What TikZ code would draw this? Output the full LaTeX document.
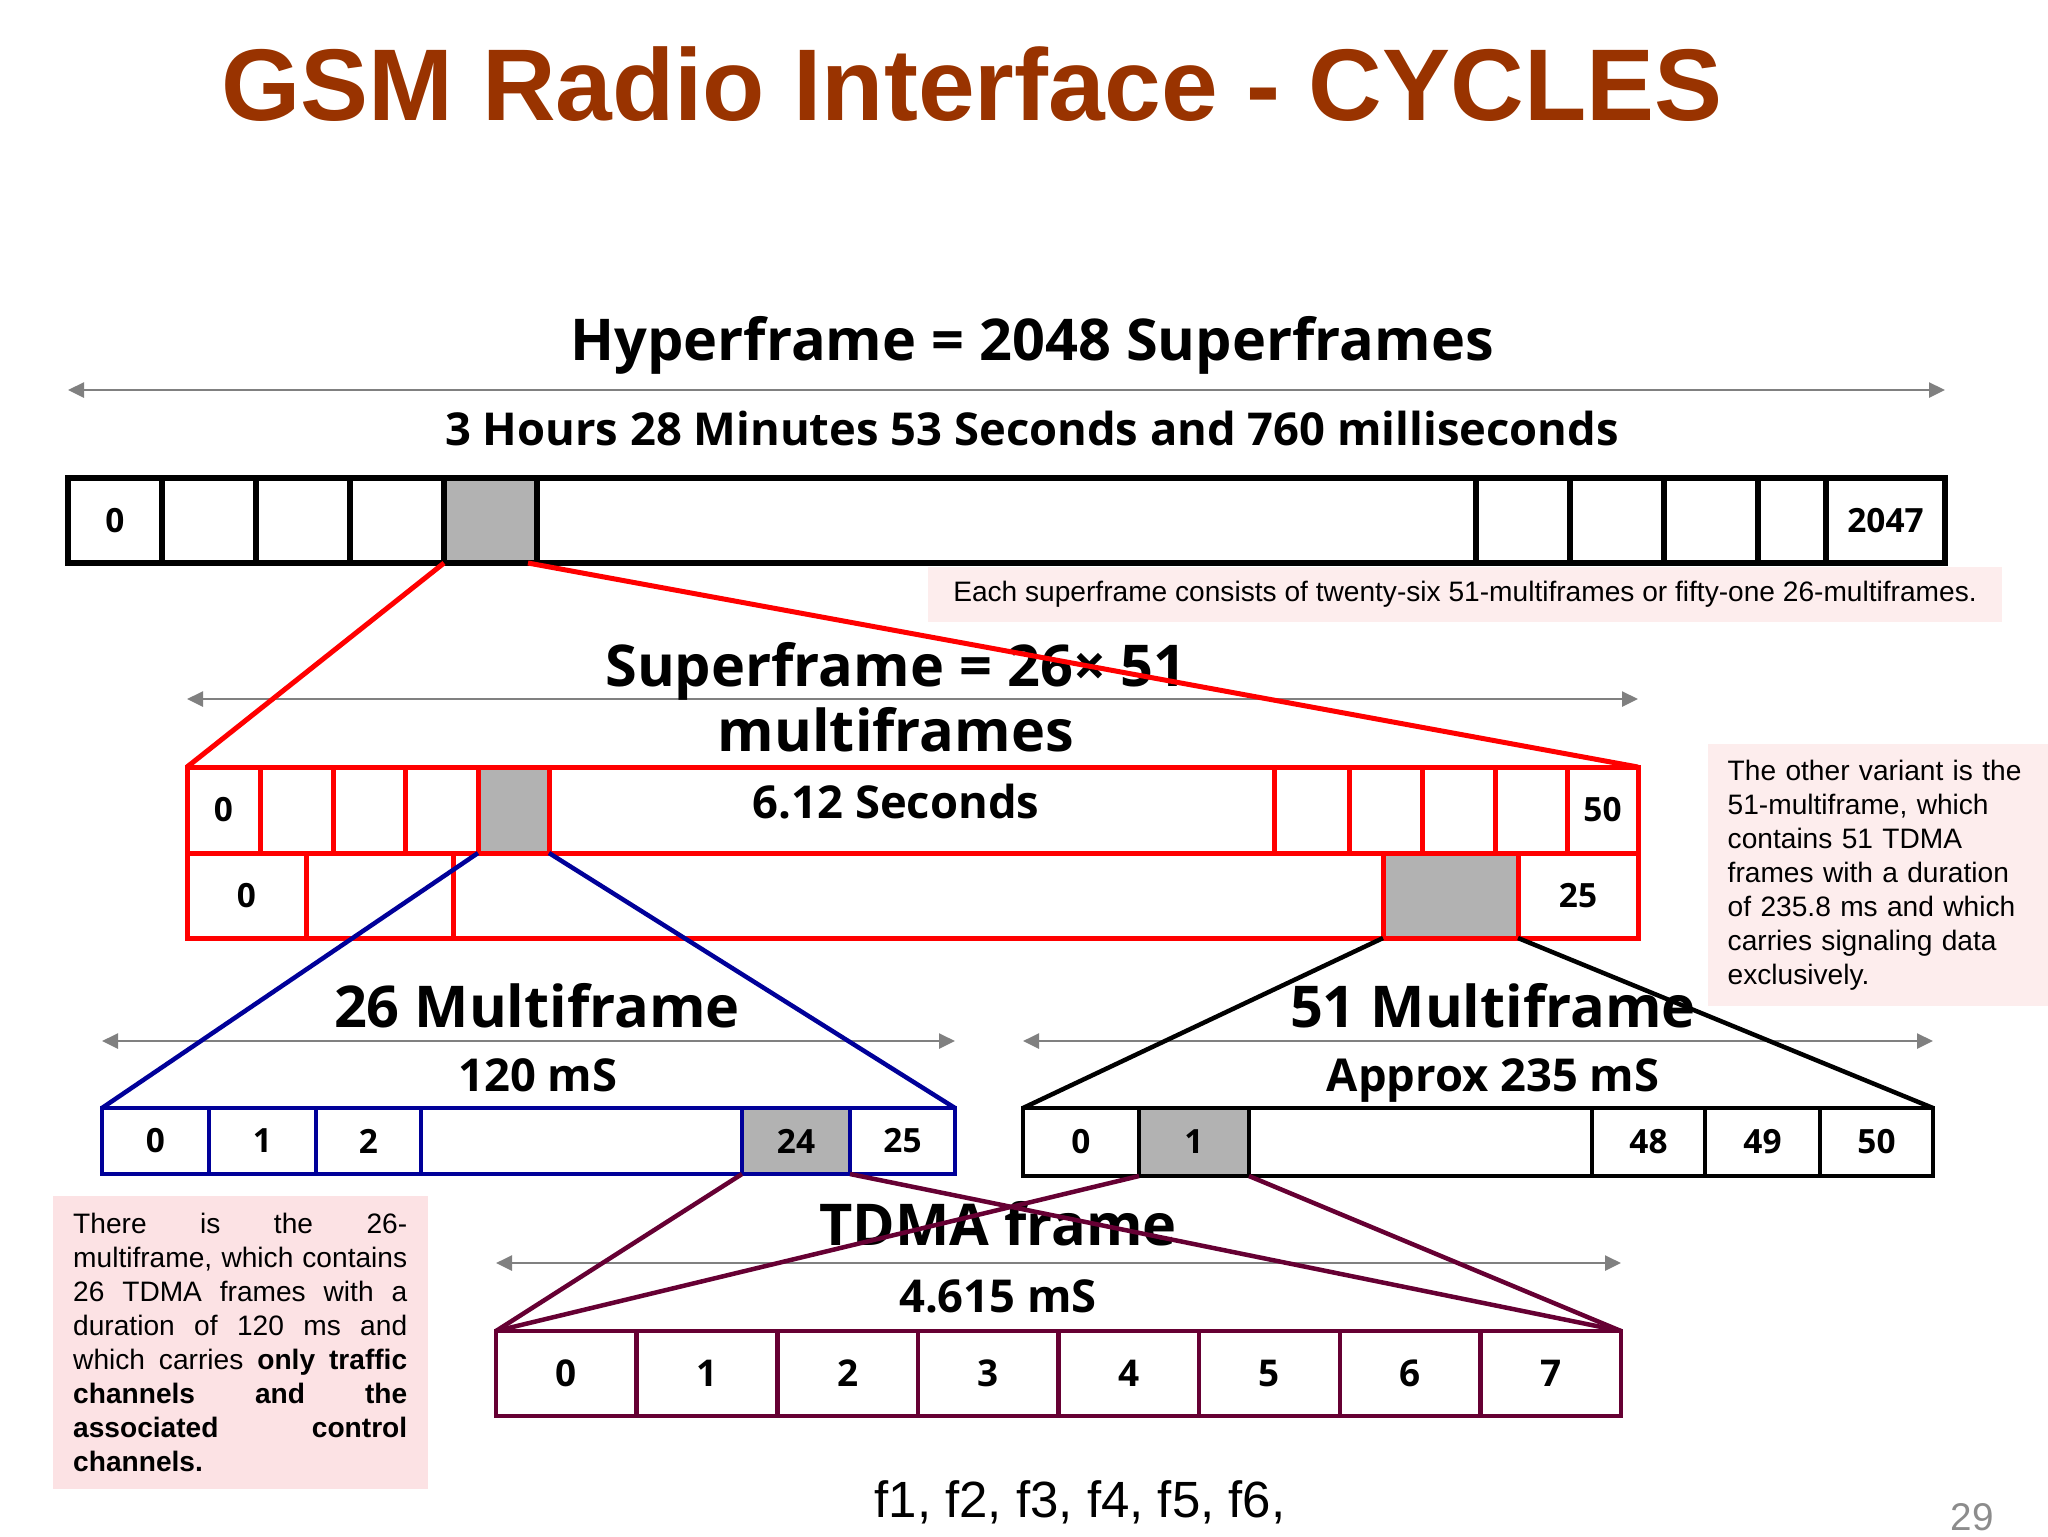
\documentclass[tikz,border=0pt]{standalone}
\usepackage{fontspec}
\setmainfont{Liberation Sans}
\newfontfamily\opensans{Open Sans}
\usepackage{tikz}
\usetikzlibrary{arrows.meta}

\definecolor{titlebrown}{RGB}{153,51,0}
\definecolor{navyline}{RGB}{0,0,153}
\definecolor{maroonline}{RGB}{102,0,51}
\definecolor{cellgray}{RGB}{178,178,178}
\definecolor{dimgray}{RGB}{128,128,128}
\definecolor{pagegray}{RGB}{140,140,140}
\definecolor{notepink}{RGB}{252,226,228}
\definecolor{notepinklight}{RGB}{253,237,237}

\begin{document}
\begin{tikzpicture}[
  x=0.1mm, y=-0.1mm,
  >={Triangle[length=1.6mm,width=1.5mm]},
  heading/.style={font=\fontsize{29}{35}\selectfont\bfseries, text=titlebrown, anchor=base, inner sep=0pt},
  framehead/.style={font=\opensans\bfseries\fontsize{16.4}{18.5}\selectfont, anchor=base, align=center, inner sep=0pt},
  framedur/.style={font=\opensans\bfseries\fontsize{12.9}{15}\selectfont, anchor=base, inner sep=0pt},
  barcell/.style={draw, inner sep=0pt, outer sep=0pt, font=\opensans\bfseries\fontsize{9.5}{11}\selectfont},
  hcell/.style={barcell, line width=0.6mm, minimum height=8.5mm},
  scell/.style={barcell, draw=red, line width=0.5mm, minimum height=8.5mm},
  mcell/.style={barcell, draw=navyline, line width=0.45mm, minimum height=6.6mm},
  bcell/.style={barcell, line width=0.45mm, minimum height=6.8mm},
  tcell/.style={barcell, draw=maroonline, line width=0.45mm, minimum height=8.5mm,
                font=\opensans\bfseries\fontsize{10.5}{12}\selectfont},
  sel/.style={fill=cellgray},
  dimline/.style={<->, draw=dimgray, line width=0.25mm},
  zoomline/.style={line width=0.45mm},
  notebox/.style={fill=notepinklight, font=\fontsize{8}{9.67}\selectfont, inner sep=0pt},
]
\useasboundingbox (0,0) rectangle (2048,1536);

% Title
\node[heading] (ttl) at (972,120) {GSM Radio Interface - CYCLES};

% Hyperframe
\node[hcell, anchor=north west, minimum width=187.7mm] (hyper) at (68,478) {};
\foreach \xl/\xr/\txt in {68/162/0, 162/256/{}, 256/350/{}, 350/444/{}, 537/1476/{},
    1476/1570/{}, 1570/1664/{}, 1664/1758/{}, 1758/1826/{}, 1826/1945/2047}
  \node[hcell, minimum width={(\xr-\xl)*0.1mm}] (h\xl) at ({(\xl+\xr)/2},520.5) {\txt};
\node[hcell, sel, minimum width=9.3mm] (hsel) at (490.5,520.5) {};
\draw[dimline] ([yshift=8.8mm]hyper.north west) -- ([yshift=8.8mm]hyper.north east);
\node[framehead] (hyperlbl) at (1032,360) {Hyperframe = 2048 Superframes};
\node[framedur] (hyperdur) at (1032,445) {3 Hours 28 Minutes 53 Seconds and 760 milliseconds};
\node[notebox, minimum width=107.4mm, minimum height=5.5mm] (sfnote) at (1465,594.5)
  {Each superframe consists of twenty-six 51-multiframes or fifty-one 26-multiframes.};

% Superframe
\node[scell, anchor=north west, minimum width=145.1mm, minimum height=17.1mm] (super) at (187,767) {};
\foreach \xl/\xr/\txt in {187/260/0, 260/333/{}, 333/405/{}, 405/478/{}, 549/1274/{},
    1274/1349/{}, 1349/1422/{}, 1422/1495/{}, 1495/1567/{}, 1567/1638/50}
  \node[scell, minimum height=8.6mm, minimum width={(\xr-\xl)*0.1mm}] (st\xl) at ({(\xl+\xr)/2},810) {\txt};
\node[scell, sel, minimum height=8.6mm, minimum width=7.1mm] (ssel) at (513.5,810) {};
\foreach \xl/\xr/\txt in {187/306/0, 306/453/{}, 453/1383/{}, 1518/1638/25}
  \node[scell, minimum width={(\xr-\xl)*0.1mm}] (sb\xl) at ({(\xl+\xr)/2},895.5) {\txt};
\node[scell, sel, minimum width=13.5mm] (ssel2) at (1450.5,895.5) {};
\draw[dimline] ([yshift=6.8mm]super.north west) -- ([yshift=6.8mm]super.north east);
\node[framehead, anchor=center] (superlbl) at (896,697) {Superframe = 26× 51\\multiframes};
\node[framedur] (superdur) at (896,818) {6.12 Seconds};

% 26 multiframe
\node[mcell, anchor=north west, minimum width=85.3mm] (mf26) at (102,1108) {};
\foreach \xl/\xr/\txt in {102/209/0, 209/316/1, 316/421/2, 421/742/{}, 850/955/25}
  \node[mcell, minimum width={(\xr-\xl)*0.1mm}] (m\xl) at ({(\xl+\xr)/2},1141) {\txt};
\node[mcell, sel, minimum width=10.8mm] (msel26) at (796,1141) {24};
\draw[dimline] ([yshift=6.7mm]mf26.north west) -- ([yshift=6.7mm]mf26.north east);
\node[framehead] (mf26lbl) at (537,1027) {26 Multiframe};
\node[framedur] (mf26dur) at (538,1091) {120 mS};

% 51 multiframe
\node[bcell, anchor=north west, minimum width=91mm] (mf51) at (1023,1108) {};
\foreach \xl/\xr/\txt in {1023/1139/0, 1249/1592/{}, 1592/1705/48, 1705/1820/49, 1820/1933/50}
  \node[bcell, minimum width={(\xr-\xl)*0.1mm}] (b\xl) at ({(\xl+\xr)/2},1142) {\txt};
\node[bcell, sel, minimum width=11mm] (msel51) at (1194,1142) {1};
\draw[dimline] ([yshift=6.7mm]mf51.north west) -- ([yshift=6.7mm]mf51.north east);
\node[framehead] (mf51lbl) at (1493,1027) {51 Multiframe};
\node[framedur] (mf51dur) at (1493,1091) {Approx 235 mS};

% TDMA frame
\node[tcell, anchor=north west, minimum width=112.5mm] (tdma) at (496,1331) {};
\foreach \n in {0,...,7}
  \node[tcell, minimum width=14.0625mm] (t\n) at ({496+140.625*(\n+0.5)},1373.5) {\n};
\draw[dimline] ([yshift=6.8mm]tdma.north west) -- ([yshift=6.8mm]tdma.north east);
\node[framehead] (tdmalbl) at (998,1245) {TDMA frame};
\node[framedur] (tdmadur) at (998,1312) {4.615 mS};

% zoom lines
\draw[zoomline, red, line width=0.5mm] (hsel.south west) -- (super.north west);
\draw[zoomline, red, line width=0.5mm] ([xshift=-0.9mm]hsel.south east) -- (super.north east);
\draw[zoomline, navyline] (ssel.south west) -- (mf26.north west);
\draw[zoomline, navyline] (ssel.south east) -- (mf26.north east);
\draw[zoomline] (ssel2.south west) -- (mf51.north west);
\draw[zoomline] (ssel2.south east) -- (mf51.north east);
\foreach \src in {msel26, msel51} {
  \draw[zoomline, maroonline] (\src.south west) -- (tdma.north west);
  \draw[zoomline, maroonline] (\src.south east) -- (tdma.north east);
}

% notes
\node[notebox, anchor=north west, text width=30.1mm, inner xsep=2mm, inner ysep=1.6mm, align=left]
  (mf51note) at (1707,743)
  {The other variant is the\\51-multiframe, which\\contains 51 TDMA\\frames with a duration\\of 235.8 ms and which\\carries signaling data\\exclusively.};
\node[notebox, fill=notepink, anchor=north west, text width=33.4mm, inner xsep=2.05mm, inner ysep=1.75mm, align=justify]
  (mf26note) at (52,1195)
  {\spaceskip=0pt \xspaceskip=0pt
   \makebox[33.4mm][s]{There is the 26-}\\
   \makebox[33.4mm][s]{multiframe, which contains}\\
   \makebox[33.4mm][s]{26 TDMA frames with a}\\
   \makebox[33.4mm][s]{duration of 120 ms and}\\
   \makebox[33.4mm][s]{which carries \textbf{only traffic}}\\
   \makebox[33.4mm][s]{\textbf{channels and the}}\\
   \makebox[33.4mm][s]{\textbf{associated control}}\\
   \textbf{channels.}};

\node[anchor=base, font=\fontsize{14.5}{17}\selectfont, inner sep=0pt] (freqs) at (1080,1517) {f1, f2, f3, f4, f5, f6,};
\node[anchor=base, font=\fontsize{11}{13}\selectfont, text=pagegray, inner sep=0pt] (pageno) at (1972,1530) {29};
\end{tikzpicture}
\end{document}
